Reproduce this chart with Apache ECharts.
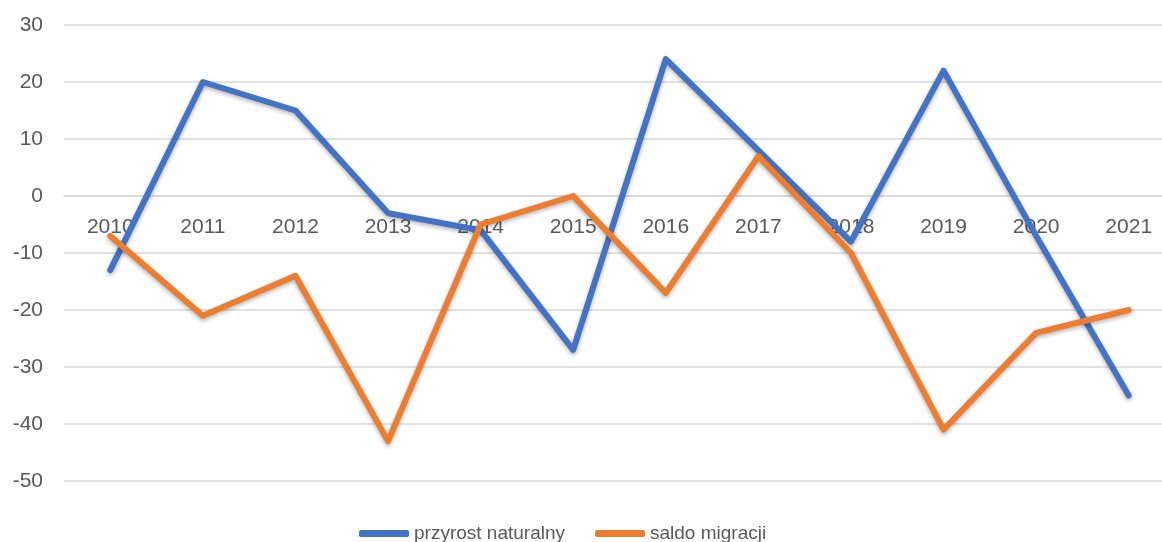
<!DOCTYPE html>
<html>
<head>
<meta charset="utf-8">
<script src="https://cdn.jsdelivr.net/npm/echarts@6/dist/echarts.min.js"></script>
<style>
  html, body { margin: 0; padding: 0; background: #fff; }
  #main { width: 1162px; height: 542px; }
</style>
</head>
<body>
<div id="main"></div>
<script>
var years = ['2010', '2011', '2012', '2013', '2014', '2015', '2016', '2017', '2018', '2019', '2020', '2021'];
var przyrost = [-13, 20, 15, -3, -6, -27, 24, 8, -8, 22, -7, -35];
var saldo = [-7, -21, -14, -43, -5, 0, -17, 7, -10, -41, -24, -20];

var myChart = echarts.init(document.getElementById('main'));
var font = 'Liberation Sans';

var option = {
    backgroundColor: '#FFFFFF',
    animation: false,
    grid: { left: 64, width: 1111, top: 25, bottom: 61, outerBoundsMode: 'none', containLabel: false },
    legend: {
        bottom: -6,
        left: 354,
        itemWidth: 50,
        itemHeight: 7,
        itemGap: 30,
        icon: 'roundRect',
        data: ['przyrost naturalny', 'saldo migracji'],
        textStyle: { color: '#595959', fontSize: 19, fontFamily: font }
    },
    xAxis: {
        type: 'category',
        data: years,
        boundaryGap: true,
        // etykiety przy linii zera (jak w Excelu)
        offset: -285,
        axisLine: { onZero: false, lineStyle: { color: '#d9d9d9', width: 1.5 } },
        axisTick: { show: false },
        axisLabel: { color: '#595959', fontSize: 21, fontFamily: font, margin: 21 }
    },
    yAxis: {
        type: 'value',
        min: -50,
        max: 30,
        interval: 10,
        axisLine: { show: false },
        axisTick: { show: false },
        splitLine: { lineStyle: { color: '#d9d9d9', width: 1.5 } },
        axisLabel: { color: '#595959', fontSize: 21, fontFamily: font, margin: 21 }
    },
    series: [
        {
            name: 'przyrost naturalny',
            type: 'line',
            data: przyrost,
            symbol: 'none',
            lineStyle: {
                color: '#4472C4', width: 6, cap: 'round', join: 'round',
                shadowColor: 'rgba(0,0,0,0.3)', shadowBlur: 4, shadowOffsetY: 2
            },
            itemStyle: { color: '#4472C4' }
        },
        {
            name: 'saldo migracji',
            type: 'line',
            data: saldo,
            symbol: 'none',
            lineStyle: {
                color: '#ED7D31', width: 6, cap: 'round', join: 'round',
                shadowColor: 'rgba(0,0,0,0.3)', shadowBlur: 4, shadowOffsetY: 2
            },
            itemStyle: { color: '#ED7D31' }
        }
    ]
};
myChart.setOption(option);
</script>
</body>
</html>
